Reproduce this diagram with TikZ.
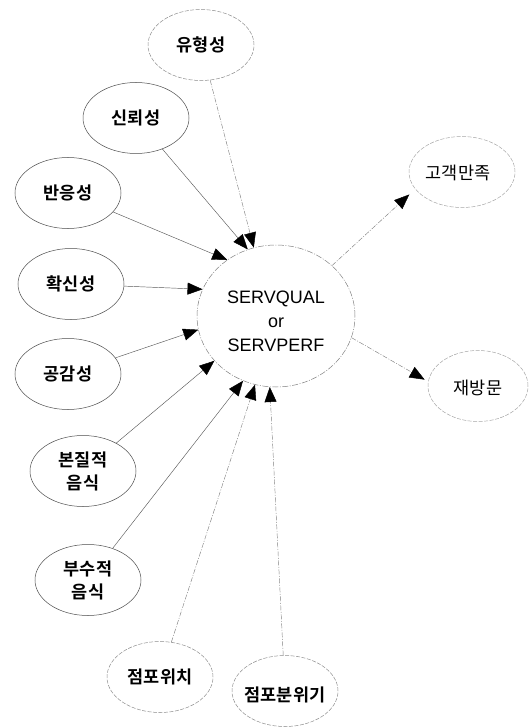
\documentclass[tikz,border=0pt]{standalone}
\usepackage{fontspec}
\setmainfont{Liberation Sans}
\newfontfamily\kr{Noto Sans CJK KR}[BoldFont={Noto Sans CJK KR Bold}]
\usetikzlibrary{shapes.geometric,arrows.meta}
\begin{document}
\begin{tikzpicture}[x=1pt,y=-1pt,
  oval/.style={ellipse,draw=black!70,line width=0.5pt,minimum width=106pt,minimum height=71pt,inner sep=0pt},
  fadedoval/.style={oval,draw=black!45,dash pattern=on 4pt off 1.5pt},
  lab/.style={font=\kr\bfseries\fontsize{17.5}{23}\selectfont,align=center,inner sep=0pt},
  lightlab/.style={font=\kr\fontsize{17.5}{23}\selectfont,align=center,inner sep=0pt},
  conn/.style={draw=black!65,line width=0.45pt,-{Triangle[length=15pt,width=12pt,color=black,fill=black]}},
  fadedconn/.style={conn,draw=black!50,dash pattern=on 5pt off 1.5pt on 1pt off 1.5pt},
]
\useasboundingbox (0,0) rectangle (528,727);

% central node
\node[ellipse,draw=black!50,line width=0.5pt,dash pattern=on 6pt off 1.5pt on 1pt off 1.5pt,
      minimum width=158pt,minimum height=142pt,inner sep=0pt] (c) at (276,316) {};
\node[align=center,inner sep=0pt,font=\fontsize{18}{24}\selectfont] (ct) at (276,321) {SERVQUAL\\or\\SERVPERF};

% antecedents
\node[fadedoval] (yh) at (201,45) {};  \node[lab] (yht) at (yh) {유형성};
\node[oval] (sr) at (136,118) {};      \node[lab] (srt) at (sr) {신뢰성};
\node[oval] (be) at (68,193) {};       \node[lab] (bet) at (be) {반응성};
\node[oval] (hs) at (71,284) {};       \node[lab] (hst) at (hs) {확신성};
\node[oval] (gg) at (68,374) {};       \node[lab] (ggt) at (gg) {공감성};
\node[oval] (bj) at (83,471) {};       \node[lab] (bjt) at (bj) {본질적\\음식};
\node[oval] (bs) at (88,580) {};       \node[lab] (bst) at (bs) {부수적\\음식};
\node[fadedoval] (jw) at (160,677) {}; \node[lab] (jwt) at (jw) {점포위치};
\node[fadedoval] (ja) at (285,691) {}; \node[lab] (jat) at (285,695) {점포분위기};

% outcomes
\node[fadedoval,draw=black!35] (gk) at (462,172) {}; \node[lightlab] (gkt) at (458,173) {고객만족};
\node[fadedoval,draw=black!35,minimum width=100pt] (jb) at (478,386) {}; \node[lightlab] (jbt) at (478,388) {재방문};

% connectors in
\draw[fadedconn] (yh) -- (c.108);
\draw[conn] (sr) -- (c.113);
\draw[conn] (be) -- (c.131);
\draw[conn] (hs) -- (c.160);
\draw[conn] (gg) -- (c.190);
\draw[conn] (bj) -- (c.216);
\draw[conn] (bs) -- (c.243);
\draw[fadedconn] (jw) -- (c.253);
\draw[fadedconn] (ja) -- (c.265);

% connectors out
\draw[fadedconn,shorten >=8pt] (c.42) -- (gk.200);
\draw[fadedconn,shorten >=4pt] (c.344) -- (jb.175);
\end{tikzpicture}
\end{document}
